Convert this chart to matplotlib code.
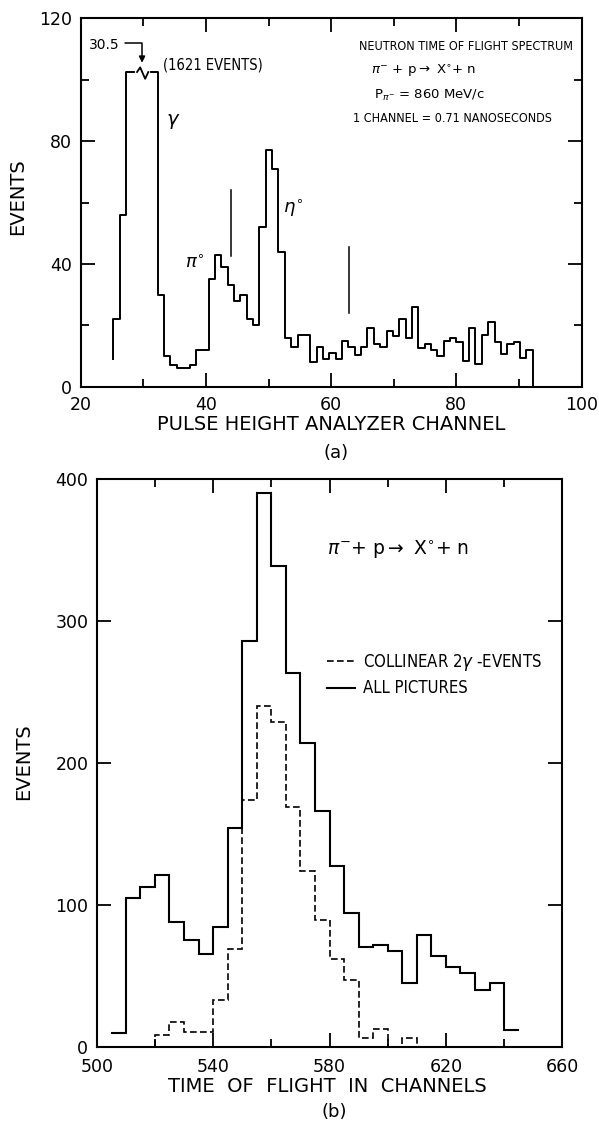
import numpy as np
import matplotlib.pyplot as plt
from matplotlib.ticker import MultipleLocator

plt.rcParams['font.family'] = ['DejaVu Sans']
plt.rcParams['mathtext.fontset'] = 'dejavusans'

# (a) neutron time of flight spectrum, one count per analyzer channel
chan_start, chan_end = 25.2, 92.2
start_level = 9
counts_a = [22, 56, 102.5, 102.5, 102.5, 102.5, 102.5, 30, 10, 7, 6, 6, 7, 12, 12,
            35, 43, 39, 33, 28, 30, 22, 20, 52, 77, 71, 44,
            16, 13, 17, 17, 8, 13, 9, 11, 9, 15, 13, 10.4, 13, 19, 14, 13, 18, 16.6,
            22, 16, 26, 12.5, 14, 12, 10, 15, 16, 14.7, 8.5, 19, 7.5, 17, 21, 14.5,
            10.5, 13.8, 14.5, 9.5, 12]
marker_lines = [(44.05, 42.6, 64.0), (62.8, 23.9, 45.6)]

# (b) time of flight in channels, 5-channel bins
all_edges = np.arange(505, 650, 5)
all_pictures = [10, 105, 112.5, 121, 88, 75, 65, 84, 154, 286, 390, 339, 263, 214,
                166, 127, 94, 70, 72, 67.5, 44.6, 78.5, 64, 56, 52, 40, 44.6, 11.7]
col_edges = np.arange(520, 615, 5)
collinear = [8, 17.5, 10.6, 10.6, 33, 68.5, 174, 240, 229, 169, 124, 89, 62, 47,
             6.3, 12.4, 0, 6.3]
tof_ticks = [500, 540, 580, 620, 660]

W, H = 599, 1131
fig = plt.figure(figsize=(W / 100, H / 100), dpi=100)
ax1 = fig.add_axes([80.7 / W, 1 - 386.7 / H, 500.8 / W, 368.4 / H])
ax2 = fig.add_axes([96.7 / W, 1 - 1046.7 / H, 465.6 / W, 567.7 / H])

for ax in (ax1, ax2):
    for s in ax.spines.values():
        s.set_linewidth(1.5)
    ax.tick_params(which='both', direction='in', top=True, right=True,
                   width=1.3, labelsize=12.5)
    ax.tick_params(which='major', length=10)
    ax.tick_params(which='minor', length=6)

# ---- panel (a)
edges_a = np.linspace(chan_start, chan_end, len(counts_a) + 1)
xs = np.repeat(edges_a, 2)
ys = np.concatenate([[start_level], np.repeat(counts_a, 2), [0]])
ax1.plot(xs, ys, color='k', lw=1.4)

# broken top of the gamma peak
peak = max(counts_a)
ax1.plot([29.0, 30.8], [peak, peak], color='white', lw=3, zorder=3)
ax1.plot([29.0, 29.5, 30.3, 30.8], [peak, peak + 1.5, peak - 2.2, peak],
         color='k', lw=1.3, zorder=4)

for x, y0, y1 in marker_lines:
    ax1.plot([x, x], [y0, y1], color='k', lw=1.1)

ax1.set_xlim(20, 100)
ax1.set_ylim(0, 120)
ax1.xaxis.set_major_locator(MultipleLocator(20))
ax1.xaxis.set_minor_locator(MultipleLocator(10))
ax1.yaxis.set_major_locator(MultipleLocator(40))
ax1.yaxis.set_minor_locator(MultipleLocator(20))
ax1.tick_params(axis='x', pad=7)
ax1.tick_params(axis='y', pad=6)

ax1.text(23.8, 111.3, '30.5', fontsize=10, ha='center', va='center')
ax1.annotate('', xy=(29.8, 105.5), xytext=(27.1, 111.8),
             arrowprops=dict(arrowstyle='-|>', color='k', lw=1.1,
                             connectionstyle='angle,angleA=0,angleB=90,rad=0',
                             shrinkA=0, shrinkB=0, mutation_scale=9))
ax1.text(33.2, 104.8, '(1621 EVENTS)', fontsize=10.5, ha='left', va='center',
         fontstretch='condensed')
ax1.text(33.7, 86.3, r'$\gamma$', fontsize=14, ha='left', va='center')
ax1.text(38.3, 40.2, r'$\pi^{\circ}$', fontsize=13, ha='center', va='center')
ax1.text(54.0, 58.0, r'$\eta^{\circ}$', fontsize=13, ha='center', va='center')

ax1.text(81.5, 110.7, 'NEUTRON TIME OF FLIGHT SPECTRUM', fontsize=9,
         ha='center', va='center', fontstretch='condensed')
ax1.text(74.8, 103, r'$\pi^{-}$ + p$\rightarrow$ X$^{\circ}$+ n', fontsize=9.5,
         ha='center', va='center')
ax1.text(75.7, 95, r'P$_{\pi^{-}}$ = 860 MeV/c', fontsize=9.5,
         ha='center', va='center')
ax1.text(79.4, 87.4, '1 CHANNEL = 0.71 NANOSECONDS', fontsize=9,
         ha='center', va='center', fontstretch='condensed')

# ---- panel (b)
ax2.stairs(all_pictures, all_edges, baseline=None, color='k', lw=1.5,
           label='ALL PICTURES')
ax2.stairs(collinear, col_edges, baseline=0, color='k', lw=1.2,
           linestyle=(0, (4, 2)), label=r'COLLINEAR 2$\gamma$ -EVENTS')

ax2.set_xlim(500, 660)
ax2.set_ylim(0, 400)
ax2.set_xticks(tof_ticks)
ax2.xaxis.set_minor_locator(MultipleLocator(20))
ax2.yaxis.set_major_locator(MultipleLocator(100))
ax2.tick_params(axis='x', pad=8)
ax2.tick_params(axis='y', pad=6)

ax2.text(603.4, 350.5, r'$\pi^{-}$+ p$\rightarrow$ X$^{\circ}$+ n', fontsize=13.5,
         ha='center', va='center')
h, l = ax2.get_legend_handles_labels()
ax2.legend(h[::-1], l[::-1], loc='upper left', bbox_to_anchor=(0.462, 0.722),
           frameon=False, prop={'size': 12, 'stretch': 'condensed'},
           handlelength=1.7, handletextpad=0.5, labelspacing=0.4)

# axis titles
fig.text(18 / W, 1 - 197 / H, 'EVENTS', rotation=90, fontsize=14,
         ha='center', va='center')
fig.text(24 / W, 1 - 762 / H, 'EVENTS', rotation=90, fontsize=14,
         ha='center', va='center')
fig.text(331 / W, 1 - 424 / H, 'PULSE HEIGHT ANALYZER CHANNEL', fontsize=14,
         ha='center', va='center')
fig.text(336 / W, 1 - 453 / H, '(a)', fontsize=13, ha='center', va='center')
fig.text(327 / W, 1 - 1086 / H, 'TIME  OF  FLIGHT  IN  CHANNELS', fontsize=14,
         ha='center', va='center')
fig.text(334 / W, 1 - 1112 / H, '(b)', fontsize=13, ha='center', va='center')

fig.savefig('out.png', dpi=100)
